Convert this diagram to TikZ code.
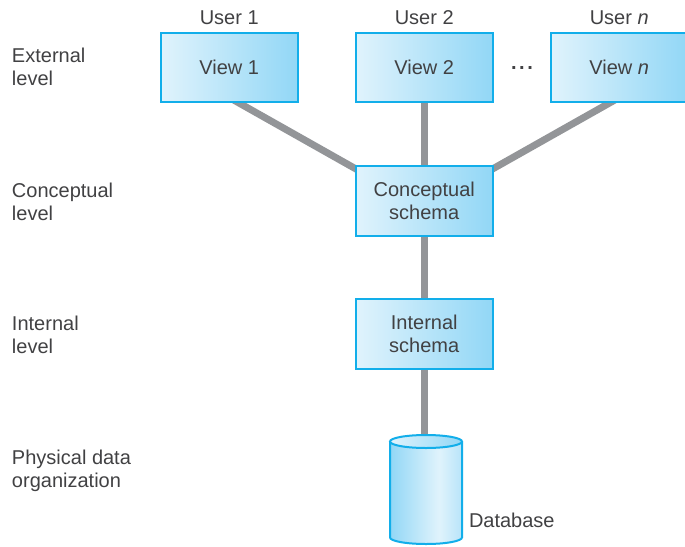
\documentclass[tikz,border=0pt]{standalone}
\usepackage{fontspec}
\setmainfont{Liberation Sans}
\definecolor{bord}{HTML}{12AEEA}
\definecolor{lite}{HTML}{E0F3FC}
\definecolor{deep}{HTML}{92D7F6}
\definecolor{mid}{HTML}{B8E4F9}
\definecolor{wire}{HTML}{939598}
\definecolor{ink}{HTML}{414143}
\pgfdeclarehorizontalshading{cylbody}{100bp}{color(0bp)=(deep);color(25bp)=(deep);color(59bp)=(lite);color(75bp)=(mid);color(100bp)=(mid)}
\pgfdeclarelayer{wires}
\pgfsetlayers{wires,main}
\tikzset{
  every node/.style={font=\fontsize{20}{23}\selectfont, text=ink, inner sep=0pt, outer sep=0pt},
  levelbox/.style={draw=bord, line width=2pt, left color=lite, right color=deep, minimum width=136.5pt, minimum height=69.5pt, align=center, anchor=north west},
  tag/.style={align=left, anchor=north west},
  wirel/.style={draw=wire, line width=7pt, shorten <=-4pt, shorten >=-4pt},
  cyl/.style={draw=bord, line width=2pt}
}
\begin{document}
\begin{tikzpicture}[x=1pt,y=-1pt]
\path[use as bounding box] (0,0) rectangle (685,546);
\node[levelbox] (v1) at (161,32.5) {View 1};
\node[levelbox] (v2) at (356,32.5) {View 2};
\node[levelbox] (vn) at (551,32.5) {View \textit{n}};
\node[levelbox] (cs) at (356,166) {Conceptual\\schema};
\node[levelbox] (is) at (356,299) {Internal\\schema};
\coordinate (dbtop) at (is.south |- 0,436);
\node[anchor=base] (u1) at (v1.north |- 0,24) {User 1};
\node[anchor=base] (u2) at (v2.north |- 0,24) {User 2};
\node[anchor=base] (un) at (vn.north |- 0,24) {User \textit{n}};
\node (dots) at (522,68) {\textbf{.\kern2.5pt.\kern2.5pt.}};
\node[tag] (l1) at (12,48.5) {External\\level};
\node[tag] (l2) at (12,183) {Conceptual\\level};
\node[tag] (l3) at (12,316) {Internal\\level};
\node[tag] (l4) at (12,450) {Physical data\\organization};
\node[anchor=base west] (dbl) at (469,527) {Database};
\begin{pgfonlayer}{wires}
\draw[wirel] ([xshift=8pt]v1.south) -- ([yshift=-3pt]cs.north west);
\draw[wirel] (v2.south) -- (cs.north);
\draw[wirel] ([xshift=-8pt]vn.south) -- ([yshift=-3pt]cs.north east);
\draw[wirel] (cs.south) -- (is.north);
\draw[wirel] (is.south) -- (dbtop);
\end{pgfonlayer}
% database
\shade[shading=cylbody] (390,442) -- (390,537.5) arc[start angle=180,end angle=0,x radius=36,y radius=6.5] -- (462,442) -- cycle;
\draw[cyl] (390,442) -- (390,537.5) arc[start angle=180,end angle=0,x radius=36,y radius=6.5] -- (462,442);
\draw[cyl,left color=lite,right color=deep] (426,441.5) ellipse[x radius=36,y radius=6.5];
\end{tikzpicture}
\end{document}
